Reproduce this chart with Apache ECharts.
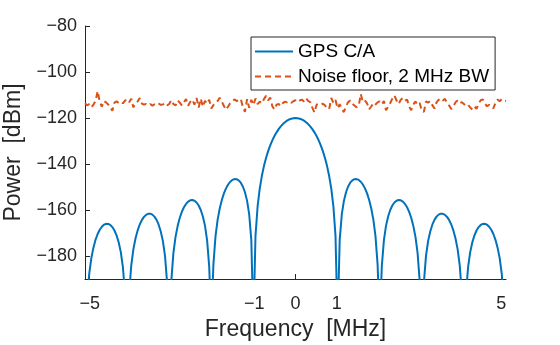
<!DOCTYPE html>
<html>
<head>
<meta charset="utf-8">
<script src="https://cdn.jsdelivr.net/npm/echarts@6/dist/echarts.min.js"></script>
<style>html,body{margin:0;padding:0;background:#fff}#c{width:560px;height:345px}</style>
</head>
<body>
<div id="c"></div>
<script>
// Frequency grid [MHz]
const freqMHz = [
-5.115,-5.064,-5.013,-4.962,-4.910,-4.859,-4.808,-4.757,-4.706,-4.655,
-4.604,-4.552,-4.501,-4.450,-4.399,-4.348,-4.297,-4.245,-4.194,-4.143,
-4.092,-4.041,-3.990,-3.939,-3.887,-3.836,-3.785,-3.734,-3.683,-3.632,
-3.581,-3.529,-3.478,-3.427,-3.376,-3.325,-3.274,-3.222,-3.171,-3.120,
-3.069,-3.018,-2.967,-2.916,-2.864,-2.813,-2.762,-2.711,-2.660,-2.609,
-2.558,-2.506,-2.455,-2.404,-2.353,-2.302,-2.251,-2.199,-2.148,-2.097,
-2.046,-1.995,-1.944,-1.893,-1.841,-1.790,-1.739,-1.688,-1.637,-1.586,
-1.535,-1.483,-1.432,-1.381,-1.330,-1.279,-1.228,-1.176,-1.125,-1.074,
-1.023,-0.972,-0.921,-0.870,-0.818,-0.767,-0.716,-0.665,-0.614,-0.563,
-0.512,-0.460,-0.409,-0.358,-0.307,-0.256,-0.205,-0.153,-0.102,-0.051,
0,
0.051,0.102,0.153,0.205,0.256,0.307,0.358,0.409,0.460,0.512,
0.563,0.614,0.665,0.716,0.767,0.818,0.870,0.921,0.972,1.023,
1.074,1.125,1.176,1.228,1.279,1.330,1.381,1.432,1.483,1.535,
1.586,1.637,1.688,1.739,1.790,1.841,1.893,1.944,1.995,2.046,
2.097,2.148,2.199,2.251,2.302,2.353,2.404,2.455,2.506,2.558,
2.609,2.660,2.711,2.762,2.813,2.864,2.916,2.967,3.018,3.069,
3.120,3.171,3.222,3.274,3.325,3.376,3.427,3.478,3.529,3.581,
3.632,3.683,3.734,3.785,3.836,3.887,3.939,3.990,4.041,4.092,
4.143,4.194,4.245,4.297,4.348,4.399,4.450,4.501,4.552,4.604,
4.655,4.706,4.757,4.808,4.859,4.910,4.962,5.013,5.064,5.115
];

// GPS C/A power [dBm]
const gpsPower = [
-210,-199.90,-187.90,-181.03,-176.37,-172.98,-170.45,-168.59,-167.27,-166.42,
-166.01,-166.04,-166.50,-167.43,-168.91,-171.04,-174.05,-178.33,-184.80,-196.41,
-210,-195.98,-183.93,-177.02,-172.31,-168.87,-166.30,-164.38,-163.01,-162.11,
-161.65,-161.61,-162.02,-162.89,-164.31,-166.38,-169.32,-173.54,-179.94,-191.49,
-210,-190.91,-178.78,-171.80,-167.00,-163.48,-160.82,-158.82,-157.36,-156.36,
-155.80,-155.67,-155.97,-156.73,-158.04,-159.99,-162.81,-166.90,-173.18,-184.58,
-210,-183.72,-171.44,-164.29,-159.33,-155.63,-152.79,-150.59,-148.92,-147.71,
-146.93,-146.56,-146.60,-147.10,-148.13,-149.78,-152.28,-156.03,-161.94,-172.96,
-210,-171.22,-158.46,-150.78,-145.24,-140.91,-137.37,-134.41,-131.88,-129.72,
-127.85,-126.23,-124.84,-123.65,-122.65,-121.83,-121.16,-120.65,-120.29,-120.07,
-120,
-120.07,-120.29,-120.65,-121.16,-121.83,-122.65,-123.65,-124.84,-126.23,-127.85,
-129.72,-131.88,-134.41,-137.37,-140.91,-145.24,-150.78,-158.46,-171.22,-210,
-172.96,-161.94,-156.03,-152.28,-149.78,-148.13,-147.10,-146.60,-146.56,-146.93,
-147.71,-148.92,-150.59,-152.79,-155.63,-159.33,-164.29,-171.44,-183.72,-210,
-184.58,-173.18,-166.90,-162.81,-159.99,-158.04,-156.73,-155.97,-155.67,-155.80,
-156.36,-157.36,-158.82,-160.82,-163.48,-167.00,-171.80,-178.78,-190.91,-210,
-191.49,-179.94,-173.54,-169.32,-166.38,-164.31,-162.89,-162.02,-161.61,-161.65,
-162.11,-163.01,-164.38,-166.30,-168.87,-172.31,-177.02,-183.93,-195.98,-210,
-196.41,-184.80,-178.33,-174.05,-171.04,-168.91,-167.43,-166.50,-166.04,-166.01,
-166.42,-167.27,-168.59,-170.45,-172.98,-176.37,-181.03,-187.90,-199.90,-210
];

// Noise floor, 2 MHz BW [dBm]
const noisePower = [
-113.6,-114.5,-114.0,-115.4,-114.2,-112.6,-108.3,-112.9,-115.1,-112.6,
-113.2,-114.1,-115.3,-116.9,-113.3,-112.8,-113.4,-112.9,-113.6,-112.4,
-111.9,-113.1,-111.6,-115.4,-113.5,-112.8,-111.3,-113.7,-114.2,-113.9,
-114.5,-114.0,-114.6,-114.1,-114.4,-113.8,-114.3,-114.1,-113.6,-114.5,
-113.9,-112.2,-113.9,-114.6,-112.4,-113.3,-114.5,-113.2,-111.8,-114.7,
-113.0,-112.0,-114.2,-111.3,-115.4,-111.6,-115.1,-112.5,-113.8,-112.1,
-115.9,-114.4,-113.5,-112.6,-111.2,-112.9,-114.8,-116.4,-115.0,-113.6,
-112.8,-111.9,-112.6,-112.3,-111.7,-115.2,-117.3,-111.8,-115.6,-112.1,
-114.3,-111.5,-114.0,-112.9,-113.6,-111.8,-110.4,-112.3,-111.1,-114.9,
-116.3,-114.2,-113.9,-114.8,-113.5,-112.9,-113.2,-112.8,-113.4,-112.7,
-112.3,
-113.0,-112.4,-112.0,-112.8,-111.4,-112.6,-113.1,-115.5,-117.6,-114.2,
-113.9,-114.3,-113.8,-114.5,-115.6,-116.1,-111.3,-113.5,-112.2,-115.8,
-114.0,-116.2,-117.4,-114.8,-113.1,-112.4,-113.8,-114.6,-115.3,-114.9,
-109.6,-113.0,-112.4,-113.6,-116.2,-115.0,-113.4,-114.1,-113.2,-112.8,
-114.0,-112.6,-116.6,-115.2,-113.5,-111.6,-110.2,-112.4,-113.9,-112.1,
-111.3,-112.5,-112.0,-115.0,-116.6,-114.1,-112.8,-114.3,-113.5,-116.9,
-117.3,-112.8,-113.3,-112.6,-114.4,-115.9,-113.2,-112.1,-111.5,-112.4,
-111.7,-113.5,-114.6,-116.1,-114.9,-113.2,-112.4,-113.6,-113.1,-113.9,
-114.8,-114.3,-115.4,-116.3,-115.0,-116.0,-113.6,-112.3,-111.9,-113.7,
-114.9,-114.3,-114.7,-115.8,-113.4,-112.0,-112.7,-111.8,-112.4,-112.6
];

const xTicks = [-5, -1, 0, 1, 5];
const yTicks = [-180, -160, -140, -120, -100, -80];
const seriesNames = ['GPS C/A', 'Noise floor, 2 MHz BW'];

const FONT = '"Liberation Sans", Arial, Helvetica, sans-serif';
const AX = '#262626';
const fmt = v => (v < 0 ? '\u2212' + Math.abs(v) : String(v));

const chart = echarts.init(document.getElementById('c'), null, {renderer: 'canvas'});
chart.setOption({
  animation: false,
  backgroundColor: '#fff',
  textStyle: {fontFamily: FONT},
  grid: {left: 85, right: 54, top: 26, bottom: 66, containLabel: false, outerBoundsMode: 'none'},
  legend: {
    orient: 'vertical', left: 251, top: 37,
    padding: [5, 6, 4, 3], itemGap: 6, itemWidth: 38, itemHeight: 14,
    borderColor: AX, borderWidth: 1, backgroundColor: '#fff',
    itemStyle: {opacity: 0},
    textStyle: {fontFamily: FONT, fontSize: 19, color: '#000'},
    data: seriesNames
  },
  xAxis: {
    type: 'value', min: -5.115, max: 5.115,
    name: 'Frequency  [MHz]', nameLocation: 'middle', nameGap: 32,
    nameTextStyle: {fontFamily: FONT, fontSize: 23, color: AX},
    axisLine: {show: true, onZero: false, lineStyle: {color: AX, width: 1}},
    axisTick: {show: true, inside: true, length: 5, customValues: xTicks, lineStyle: {color: AX}},
    axisLabel: {show: true, customValues: xTicks, margin: 16, fontSize: 18, color: AX, fontFamily: FONT, formatter: fmt},
    splitLine: {show: false}
  },
  yAxis: {
    type: 'value', min: -190, max: -80,
    name: 'Power  [dBm]', nameLocation: 'middle', nameGap: 48,
    nameTextStyle: {fontFamily: FONT, fontSize: 23, color: AX},
    axisLine: {show: true, onZero: false, lineStyle: {color: AX, width: 1}},
    axisTick: {show: true, inside: true, length: 5, customValues: yTicks, lineStyle: {color: AX}},
    axisLabel: {show: true, customValues: yTicks, margin: 8, fontSize: 18, color: AX, fontFamily: FONT, formatter: fmt},
    splitLine: {show: false}
  },
  series: [
    {
      name: seriesNames[0], type: 'line', showSymbol: false, symbol: 'none',
      data: freqMHz.map((f, i) => [f, gpsPower[i]]),
      lineStyle: {color: '#0072BD', width: 2},
      itemStyle: {color: '#0072BD'},
      clip: true
    },
    {
      name: seriesNames[1], type: 'line', showSymbol: false, symbol: 'none',
      data: freqMHz.map((f, i) => [f, noisePower[i]]),
      lineStyle: {color: '#D95319', width: 2, type: [6, 4]},
      itemStyle: {color: '#D95319'},
      clip: true
    }
  ]
});
</script>
</body>
</html>
